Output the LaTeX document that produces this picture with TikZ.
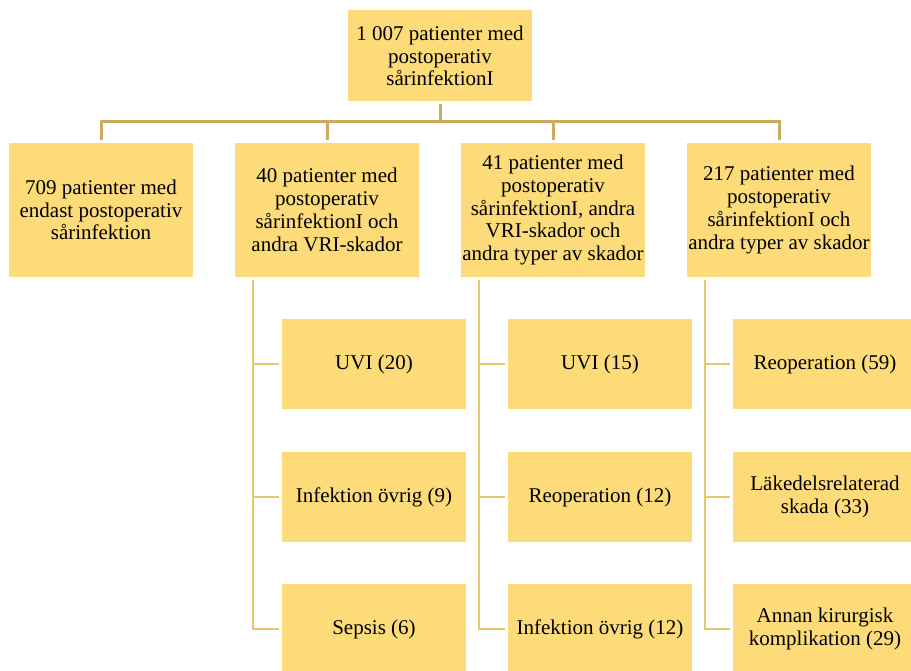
\documentclass[tikz,border=0pt]{standalone}
\usepackage{fontspec}
\setmainfont{Liberation Serif}
\definecolor{boxfill}{RGB}{252,219,120}
\definecolor{topgold}{RGB}{201,173,92}
\definecolor{subgold}{RGB}{229,199,108}
\begin{document}
\begin{tikzpicture}[x=1pt,y=1pt,
  box/.style={fill=boxfill,minimum width=184pt,align=center,outer sep=3pt,inner sep=0pt,font=\fontsize{21}{22.8}\selectfont},
  topbox/.style={box,minimum height=134pt},
  subbox/.style={box,minimum height=90pt},
  topline/.style={topgold,line width=3pt},
  subline/.style={subgold,line width=2.5pt}]
  %Frame
  \useasboundingbox (0,0) rectangle (911,-671);
  %Root
  \node[box,minimum height=91pt] (root) at (440,-56) {1 007 patienter med\\postoperativ\\sårinfektionI};
  \coordinate (bus) at (440,-122);
  %Level one
  \node[topbox] (only) at (101,-210) {709 patienter med\\endast postoperativ\\sårinfektion};
  \node[topbox] (vri) at (327,-210) {40 patienter med\\postoperativ\\sårinfektionI och\\andra VRI-skador};
  \node[topbox] (both) at (553,-210) {41 patienter med\\postoperativ\\sårinfektionI, andra\\VRI-skador och\\andra typer av skador};
  \node[topbox] (other) at (779,-210) {217 patienter med\\postoperativ\\sårinfektionI och\\andra typer av skador};
  %Connectors level one
  \draw[topline] (root.south) -- (bus);
  \draw[topline] (only.north) |- (bus);
  \draw[topline] (vri.north) |- (bus);
  \draw[topline] (both.north) |- (bus);
  \draw[topline] (other.north) |- (bus);
  %Level two, VRI
  \node[subbox] (uvia) at (374,-364) {UVI (20)};
  \node[subbox] (infa) at (374,-497) {Infektion övrig (9)};
  \node[subbox] (seps) at (374,-629) {Sepsis (6)};
  %Level two, VRI and other
  \node[subbox] (uvib) at (600,-364) {UVI (15)};
  \node[subbox] (reopb) at (600,-497) {Reoperation (12)};
  \node[subbox] (infb) at (600,-629) {Infektion övrig (12)};
  %Level two, other
  \node[subbox] (reopc) at (825,-364) {Reoperation (59)};
  \node[subbox] (lake) at (825,-497) {Läkedelsrelaterad\\skada (33)};
  \node[subbox] (kir) at (825,-629) {Annan kirurgisk\\komplikation (29)};
  %Connectors level two
  \draw[subline] ([xshift=21pt]vri.south west) |- (uvia.west);
  \draw[subline] ([xshift=21pt]vri.south west) |- (infa.west);
  \draw[subline] ([xshift=21pt]vri.south west) |- (seps.west);
  \draw[subline] ([xshift=21pt]both.south west) |- (uvib.west);
  \draw[subline] ([xshift=21pt]both.south west) |- (reopb.west);
  \draw[subline] ([xshift=21pt]both.south west) |- (infb.west);
  \draw[subline] ([xshift=21pt]other.south west) |- (reopc.west);
  \draw[subline] ([xshift=21pt]other.south west) |- (lake.west);
  \draw[subline] ([xshift=21pt]other.south west) |- (kir.west);
\end{tikzpicture}
\end{document}
